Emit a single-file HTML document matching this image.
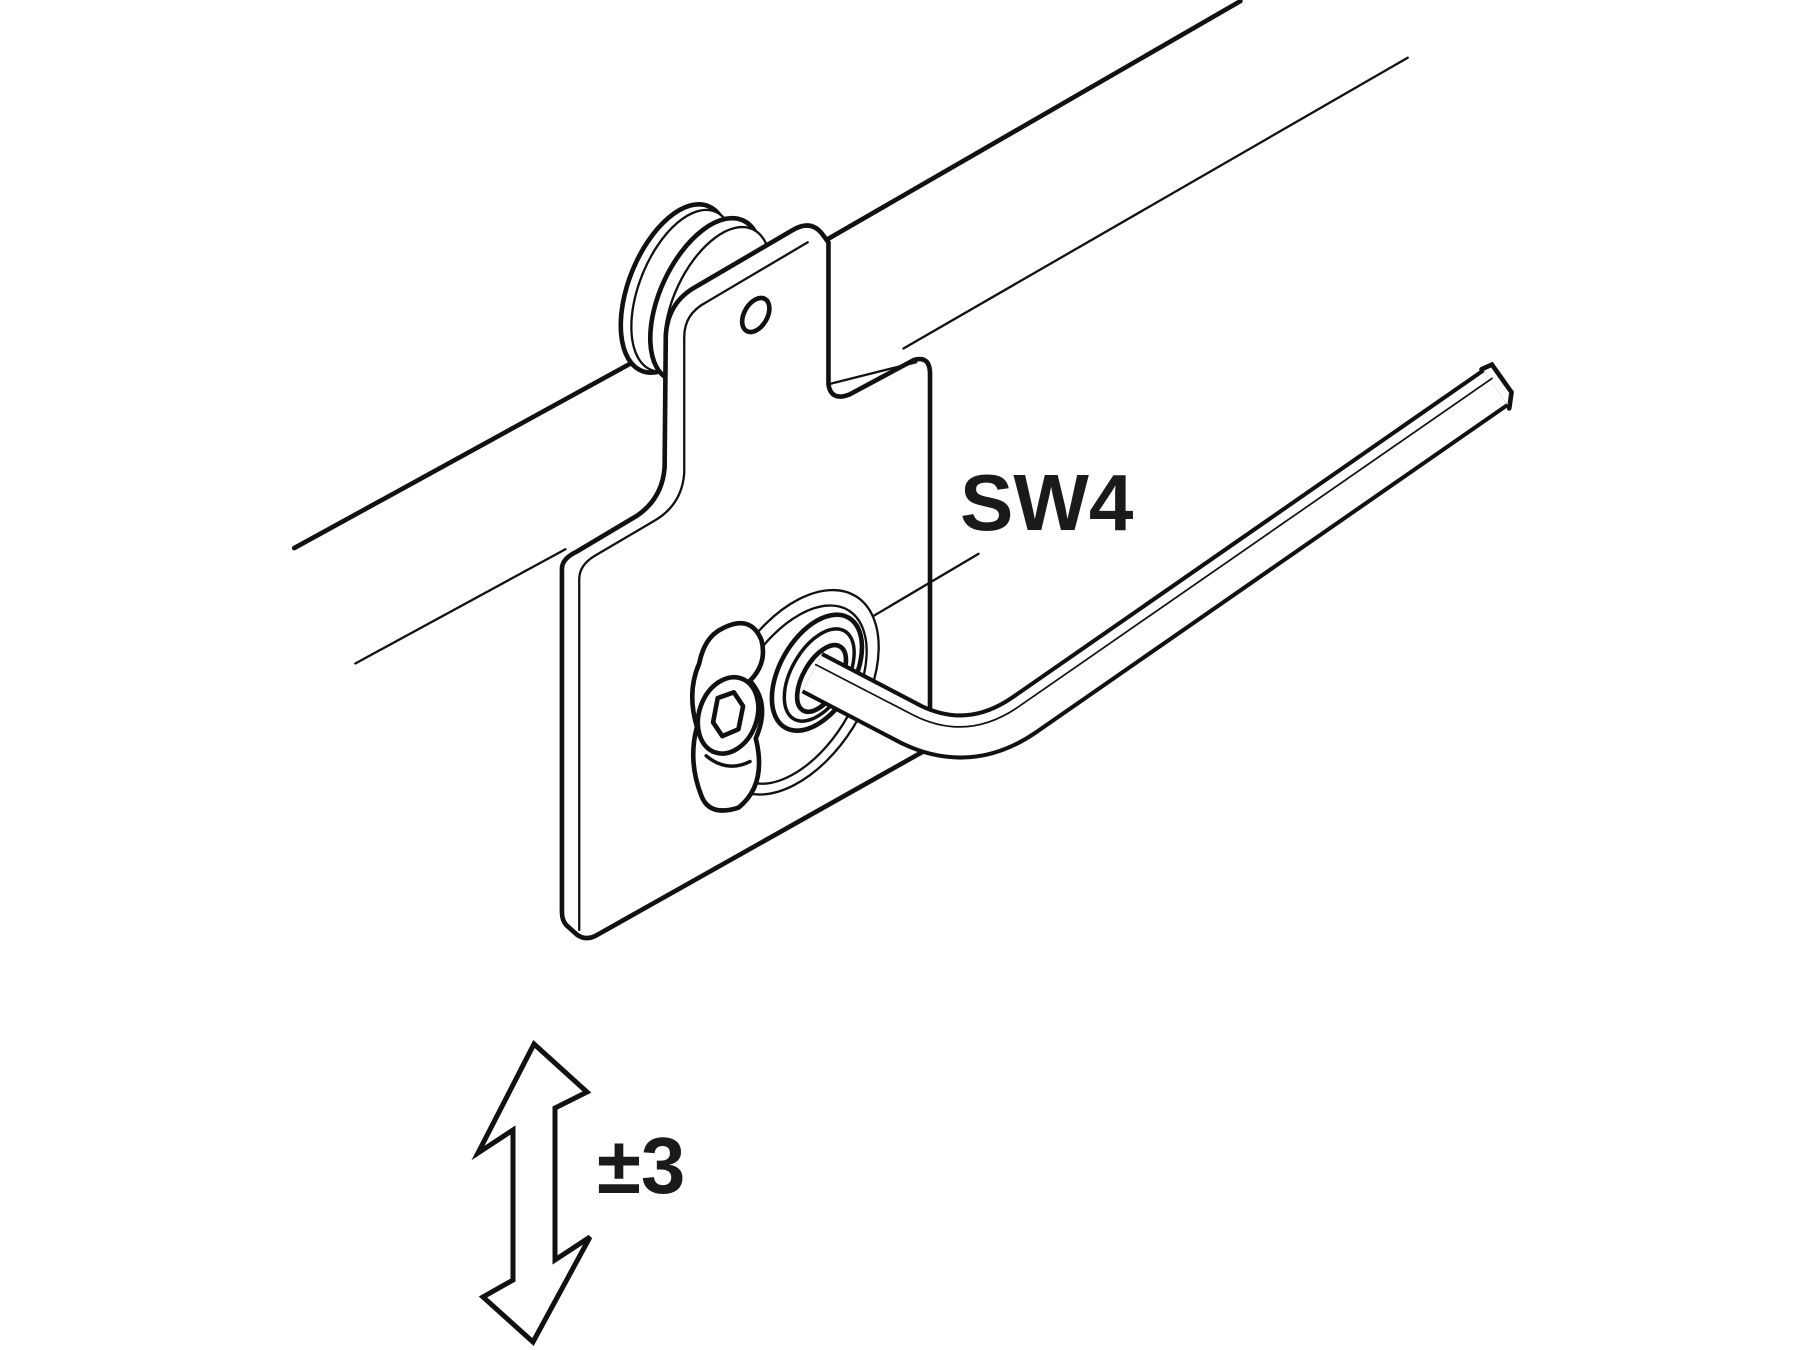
<!DOCTYPE html>
<html><head><meta charset="utf-8"><style>
html,body{margin:0;padding:0;background:#fff;}
svg{display:block;}
</style></head><body>
<svg width="1800" height="1350" viewBox="0 0 1800 1350" xmlns="http://www.w3.org/2000/svg">
<rect width="1800" height="1350" fill="#fff"/>
<g transform="scale(1.15385)" fill="none" stroke="#111" stroke-linecap="round" stroke-linejoin="round">
  <!-- rails -->
  <line x1="255" y1="475" x2="552" y2="312" stroke-width="4"/>
  <line x1="716" y1="208" x2="1075" y2="1" stroke-width="4"/>
  <line x1="308" y1="575" x2="490" y2="476" stroke-width="2"/>
  <line x1="783" y1="302" x2="1220" y2="50" stroke-width="2"/>
  <!-- roller -->
  <g fill="#fff">
    <ellipse cx="585" cy="250" rx="40" ry="77" transform="rotate(22 585 250)" stroke-width="4"/>
    <ellipse cx="592" cy="252" rx="38" ry="74" transform="rotate(22 592 252)" stroke-width="2"/>
    <ellipse cx="612" cy="260" rx="40" ry="76" transform="rotate(25 612 260)" stroke-width="4"/>
    <ellipse cx="622" cy="264" rx="38" ry="72" transform="rotate(25 622 264)" stroke-width="2"/>
  </g>
  <!-- plate silhouette -->
  <path d="M500,478 L552,447 Q574,432 576,405 L577,292 Q578,262 604,248 L686,200 Q702,190 712,202 L718,210 L718,333 Q720,348 736,342 L792,312 Q806,308 806,324 L806,648 L518,810 Q508,816 500,810 L491,802 Q487,798 487,790 L487,493 Q487,484 500,478 Z" fill="#fff" stroke-width="4"/>
  <!-- front face inner edges -->
  <path d="M593,292 Q593,272 612,262 L700,210" stroke-width="2"/>
  <path d="M593,292 L593,410 Q591,438 566,452 L515,482 Q502,490 502,502 L502,806" stroke-width="2"/>
  <path d="M718,333 L794,314" stroke-width="2"/>
  <!-- hole -->
  <ellipse cx="655" cy="273" rx="10" ry="16" transform="rotate(30 655 273)" stroke-width="4" fill="#fff"/>
  <!-- leader -->
  <line x1="848" y1="480" x2="755" y2="535" stroke-width="2"/>
  <!-- washer -->
  <ellipse cx="690" cy="600" rx="58" ry="98" transform="rotate(32 690 600)" stroke-width="2" fill="#fff"/>
  <ellipse cx="690" cy="602" rx="48" ry="86" transform="rotate(32 690 602)" stroke-width="2"/>
  <!-- cam blob -->
  <path d="M622,547 Q650,530 660,555 Q665,575 650,590 Q668,610 655,640 Q665,680 640,700 Q615,708 608,690 Q596,660 604,630 Q595,600 606,575 Q610,555 622,547 Z" fill="#fff" stroke-width="4"/>
  <ellipse cx="631" cy="620" rx="25" ry="34" transform="rotate(20 631 620)" stroke-width="4" fill="#fff"/>
  <path d="M622,605 L636,600 L644,612 L640,632 L626,638 L618,626 Z" stroke-width="4"/>
  <path d="M612,655 Q630,670 650,660" stroke-width="3"/>
  <!-- nut rings -->
  <ellipse cx="708" cy="583" rx="32" ry="55" transform="rotate(30 708 583)" stroke-width="4" fill="#fff"/>
  <ellipse cx="710" cy="585" rx="24" ry="44" transform="rotate(30 710 585)" stroke-width="3"/>
  <ellipse cx="712" cy="588" rx="16" ry="32" transform="rotate(30 712 588)" stroke-width="4"/>
  <!-- hex key -->
  <path d="M704,583 L790,628 Q840,652 887,620 L1296,336" stroke-width="40" stroke-linecap="butt"/>
  <path d="M704,583 L790,628 Q840,652 887,620 L1296,336" stroke="#fff" stroke-width="33" stroke-linecap="butt"/>
  <path d="M707,576 L792,620 Q838,643 882,613 L1293,328" stroke-width="1.5"/>
  <path d="M1284,320 L1293,316 L1310,340 L1308,354" stroke-width="4" stroke-linejoin="miter"/>
  <line x1="1293" y1="316" x2="1296" y2="336" stroke-width="0"/>
</g>
<!-- SW4 label -->
<text x="960" y="530" font-family="Liberation Sans, Arial, sans-serif" font-weight="bold" font-size="80" fill="#1a1a1a">SW4</text>
<!-- double arrow -->
<path d="M534,1044 L587,1092 L555,1108 L555,1260 L590,1237 L533,1342 L483,1297 L513,1280 L513,1130 L478,1153 Z" fill="#fff" stroke="#111" stroke-width="5" stroke-linejoin="miter"/>
<text x="597" y="1193" font-family="Liberation Sans, Arial, sans-serif" font-weight="bold" font-size="80" fill="#1a1a1a">±3</text>
</svg>
</body></html>
